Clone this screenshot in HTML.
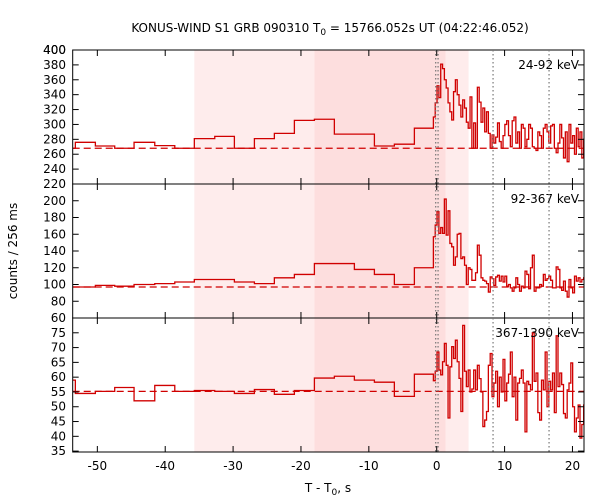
<!DOCTYPE html>
<html><head><meta charset="utf-8"><style>
html,body{margin:0;padding:0;background:#fff;}
svg{display:block;font-family:"DejaVu Sans","Liberation Sans",sans-serif;}
</style></head><body>
<svg id="chart" width="600" height="500" viewBox="0 0 600 500" xmlns="http://www.w3.org/2000/svg">
<text x="330" y="32" font-size="12" text-anchor="middle">KONUS-WIND S1 GRB 090310 T<tspan font-size="9" dy="3">0</tspan><tspan dy="-3"> = 15766.052s UT (04:22:46.052)</tspan></text>
<text transform="translate(17,251) rotate(-90)" font-size="12" text-anchor="middle">counts / 256 ms</text>
<text x="328" y="492" font-size="12" text-anchor="middle">T - T<tspan font-size="9" dy="3">0</tspan><tspan dy="-3">, s</tspan></text>
<g id="layer"></g>
</svg>
<script>
// Shared time bins
const wideEdges = [-53.63,-53.24,-50.29,-47.44,-44.59,-41.54,-38.59,-35.71,-32.70,-29.81,-26.86,-23.92,-20.97,-18.02,-15.08,-12.13,-9.18,-6.24,-3.29,-0.49];
const fineStart = -0.49;
const fineWidth = 0.27;
const shadeLight = [[-35.71,-18.02],[1.3,4.7]];
const shadeDark = [[-18.02,1.3]];
const dottedTimes = [-0.15,0.2,8.3,16.55];
const xTicks = [-50,-40,-30,-20,-10,0,10,20];

// Panel 1: 24-92 keV
const p1Wide = [268,276,271,268,276,271.5,268,281,284,268,281,288,305.5,307,287,287,271,273.5,295];
const p1Fine = [310,329,352,336,381,375,360,349,329,317,306,344,360,340,326,310,333,322,303,295,337,268,302,268,350,330,303,322,290,317,288,268,286,275,283,302,277,268,285,300,
305,285,270,305,310,275,290,268,300,295,270,280,300,295,270,268,265,290,285,268,
295,300,290,275,298,300,268,262,275,300,282,255,290,250,300,275,285,260,295,270,
290,255,280,300,250,285];
const p1Base = 268;
const p1Ticks = [400,380,360,340,320,300,280,260,240,220];

// Panel 2: 92-367 keV
const p2Wide = [97,97,99,98,100,101,103,106,106,103,101,108,112,125,125,118,112,100,120];
const p2Fine = [157,171,187,161,168,161,202,159,188,149,145,123,133,160,161,131,133,123,100,120,118,105,105,114,147,135,108,105,104,101,91,109,107,99,109,111,104,110,
103,110,98,100,96,92,96,108,100,92,98,96,116,112,95,120,135,92,96,96,100,98,112,105,107,110,105,96,96,121,118,96,93,104,92,85,106,96,90,110,104,108,103,106,108,100,104,98];
const p2Base = 97;
const p2Ticks = [200,180,160,140,120,100,80,60];

// Panel 3: 367-1390 keV
const p3Wide = [59,54.5,55.2,56.5,52,57.2,55.2,55.5,55.2,54.5,55.8,54.2,55.5,59.7,60.3,59,58.3,53.5,61];
const p3Fine = [58.8,62,68.5,62.4,60.8,65.2,71.4,64,46.2,63.5,70.3,66.3,72.5,65.2,59.6,48.4,77.5,62,56.8,62.4,55,56,62.4,55.7,64,59.5,55,43.3,45.5,48.4,64,68,53.4,58,62,50,60,55,66,52,58,61,
68.5,53.4,60,45.5,58,59.6,62.4,58,41.5,58.6,57.5,55.7,75,58.6,61.4,48,45.5,59,55.7,68.5,50,58.6,55.7,61.4,48,74,56.8,61.4,57.5,47.7,46.2,55.7,58,64.8,50,41.5,46.2,50.6,39.4,44,50.6,55,48,52];
const p3Base = 55.2;
const p3Ticks = [75,70,65,60,55,50,45,40,35];

const L=72.7, R=584, T0=-53.63, T1=21.7;
function X(t){return L+(t-T0)/(T1-T0)*(R-L);}
const panels=[
 {name:'24-92-kev',label:'24-92 keV',top:50,bot:184,lo:220,hi:400,wide:p1Wide,fine:p1Fine,base:p1Base,ticks:p1Ticks},
 {name:'92-367-kev',label:'92-367 keV',top:184,bot:318,lo:60,hi:220,wide:p2Wide,fine:p2Fine,base:p2Base,ticks:p2Ticks},
 {name:'367-1390-kev',label:'367-1390 keV',top:318,bot:452,lo:34.7,hi:80,wide:p3Wide,fine:p3Fine,base:p3Base,ticks:p3Ticks}
];
const NS='http://www.w3.org/2000/svg';
const layer=document.getElementById('layer');
function mk(tag,attrs,parent){const e=document.createElementNS(NS,tag);for(const k in attrs)e.setAttribute(k,attrs[k]);(parent||layer).appendChild(e);return e;}

shadeLight.forEach(s=>{const r=mk('rect',{x:X(s[0]),y:50,width:X(s[1])-X(s[0]),height:402,fill:'#feecec'});

});
shadeDark.forEach(s=>{const r=mk('rect',{x:X(s[0]),y:50,width:X(s[1])-X(s[0]),height:402,fill:'#fddede'});

});

panels.forEach(p=>{
 const g=mk('g',{});
 
 
 const Y=v=>p.bot-(v-p.lo)/(p.hi-p.lo)*(p.bot-p.top);
 const bl=mk('line',{x1:L,x2:R,y1:Y(p.base),y2:Y(p.base),stroke:'#d00000','stroke-width':1.2,'stroke-dasharray':'7,4'},g);
 
 
 let d='';
 for(let i=0;i<p.wide.length;i++){const x0=X(wideEdges[i]),x1=X(wideEdges[i+1]),y=Y(p.wide[i]);d+=(i?'L':'M')+x0.toFixed(2)+','+y.toFixed(2)+'L'+x1.toFixed(2)+','+y.toFixed(2);}
 for(let i=0;i<p.fine.length;i++){const t0=fineStart+i*fineWidth;const x0=X(t0),x1=Math.min(R,X(t0+fineWidth)),y=Y(p.fine[i]);if(x0>=R)break;d+='L'+x0.toFixed(2)+','+y.toFixed(2)+'L'+x1.toFixed(2)+','+y.toFixed(2);}
 const path=mk('path',{d:d,fill:'none',stroke:'#d00000','stroke-width':1.3},g);
 
 
 const fr=mk('rect',{x:L,y:p.top,width:R-L,height:p.bot-p.top,fill:'none',stroke:'#000','stroke-width':1},g);
 
 
 xTicks.forEach(t=>{mk('line',{x1:X(t),x2:X(t),y1:p.top,y2:p.top+6,stroke:'#000'},g);mk('line',{x1:X(t),x2:X(t),y1:p.bot,y2:p.bot-6,stroke:'#000'},g);});
 p.ticks.forEach(v=>{const y=Y(v);mk('line',{x1:L,x2:L+6,y1:y,y2:y,stroke:'#000'},g);mk('line',{x1:R,x2:R-6,y1:y,y2:y,stroke:'#000'},g);
  const tx=mk('text',{x:66,y:y+4,'font-size':12,'text-anchor':'end'},g);tx.textContent=v;
  
  });
 const lb=mk('text',{x:579,y:p.top+19,'font-size':12,'text-anchor':'end'},g);lb.textContent=p.label;
 
 
});
const top400=mk('text',{x:66,y:54,'font-size':12,'text-anchor':'end'});top400.textContent='400';


dottedTimes.forEach(t=>{const l=mk('line',{x1:X(t),x2:X(t),y1:50,y2:452,stroke:'#777','stroke-width':1.2,'stroke-dasharray':'1.5,2.5'});

});
xTicks.forEach(t=>{const tx=mk('text',{x:X(t),y:470,'font-size':12,'text-anchor':'middle'});tx.textContent=t;

});
</script>
</body></html>
